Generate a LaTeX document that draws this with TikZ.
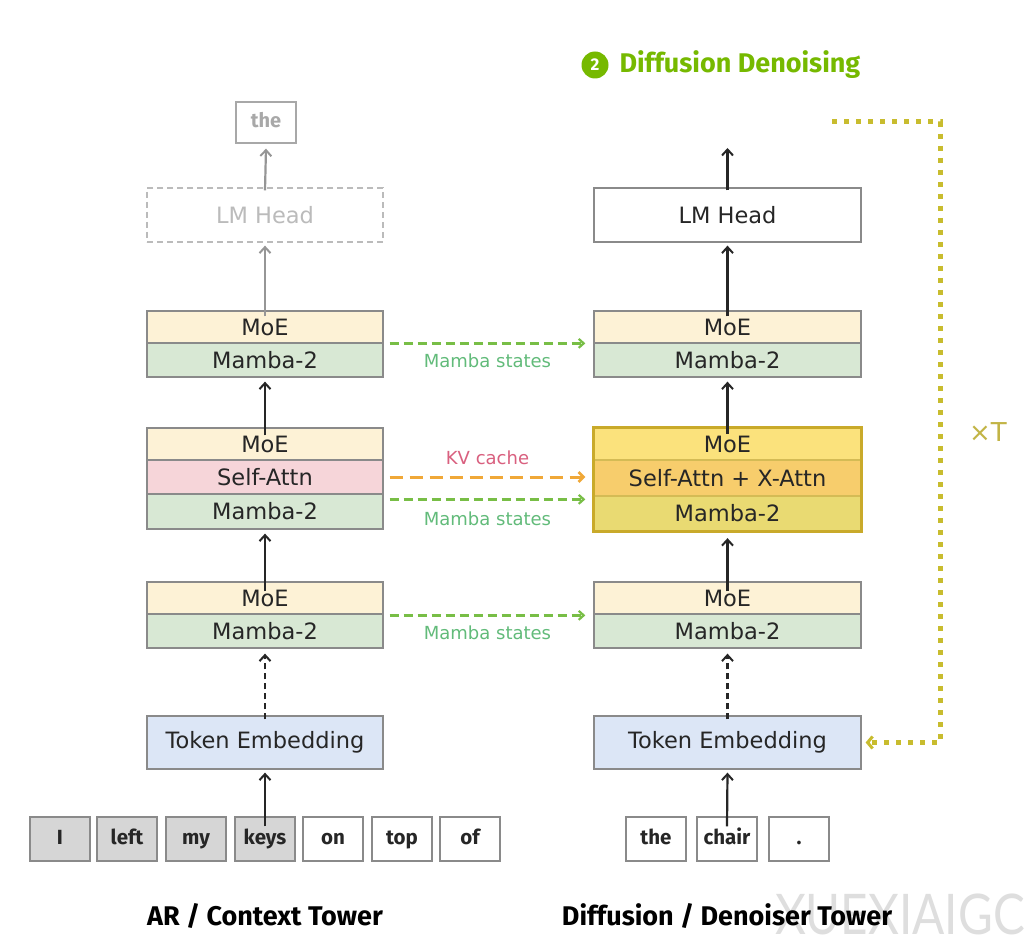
\documentclass[tikz,border=0pt]{standalone}
\usepackage{fontspec}
\setmainfont{DejaVu Sans}
\newfontfamily\titlefont{Fira Sans}
\newfontfamily\wmfont{Lato}
\usetikzlibrary{arrows.meta,fit}
\definecolor{moe}{HTML}{FDF2D6}
\definecolor{mamba}{HTML}{D8E8D4}
\definecolor{attn}{HTML}{F6D5D9}
\definecolor{emb}{HTML}{DCE6F6}
\definecolor{tokg}{HTML}{D6D6D6}
\definecolor{hmoe}{HTML}{FBE27C}
\definecolor{hattn}{HTML}{F7CD6C}
\definecolor{hmamba}{HTML}{E9DA72}
\definecolor{hborder}{HTML}{C9AA2A}
\definecolor{boxgray}{HTML}{8A8A8A}
\definecolor{garrow}{HTML}{78BE46}
\definecolor{glabel}{HTML}{62BB7A}
\definecolor{kvlabel}{HTML}{D9607F}
\definecolor{oarrow}{HTML}{F0A838}
\definecolor{olive}{HTML}{C8BC2E}
\definecolor{olivetext}{HTML}{C2B445}
\definecolor{nvgreen}{HTML}{76B900}
\definecolor{faint}{HTML}{BBBBBB}
\begin{document}
\begin{tikzpicture}[x=1pt,y=-1pt,
  box/.style={draw=boxgray, line width=1.3pt, inner sep=0pt, text=black!85,
    font=\fontsize{22.5}{25}\selectfont},
  rowL/.style={box, minimum width=236pt},
  rowR/.style={box, minimum width=267pt},
  tok/.style={box, minimum width=60pt, minimum height=44pt, text height=14pt, text depth=4pt,
    font=\titlefont\bfseries\fontsize{20.5}{22}\selectfont},
  arr/.style={line width=2.2pt, black!85, -{Straight Barb[length=6pt,width=11pt,line width=2pt]}},
  garr/.style={line width=2.2pt, faint!80!black, -{Straight Barb[length=6pt,width=11pt,line width=2pt]}},
  mam/.style={line width=2.4pt, garrow, dash pattern=on 9pt off 5pt,
    -{Straight Barb[length=5pt,width=9pt,line width=2.2pt]}},
  kv/.style={line width=3pt, oarrow, dash pattern=on 13pt off 7pt,
    -{Straight Barb[length=5pt,width=10pt,line width=2.6pt]}},
  lab/.style={font=\fontsize{18}{20}\selectfont},
  ttl/.style={font=\titlefont\bfseries\fontsize{27}{30}\selectfont, text=black}
]
\useasboundingbox[fill=white] (0,0) rectangle (1034,944);

% watermark (behind)
\node[anchor=west, text=black!13, font=\wmfont\fontsize{56}{60}\selectfont, xscale=0.85] (wm) at (772,914) {XUEXIAIGC};

% ---------------- left tower ----------------
\node[box, draw=faint!90!black, minimum width=60pt, minimum height=41pt, text=faint!90!black,
  text height=14pt, text depth=4pt,
  font=\titlefont\bfseries\fontsize{20}{22}\selectfont] (Lout) at (266,122.5) {the};
\node[rowL, dashed, dash pattern=on 6pt off 4pt, draw=faint, text=faint, minimum height=54pt] (LLM) at (265,215) {LM Head};

\node[rowL, fill=moe, minimum height=32pt] (L3m) at (265,327) {MoE};
\node[rowL, fill=mamba, minimum height=34pt] (L3a) at (265,360) {Mamba-2};

\node[rowL, fill=moe, minimum height=32pt] (L2m) at (265,444) {MoE};
\node[rowL, fill=attn, minimum height=34pt] (L2s) at (265,477) {Self-Attn};
\node[rowL, fill=mamba, minimum height=35pt] (L2a) at (265,511.5) {Mamba-2};

\node[rowL, fill=moe, minimum height=32pt] (L1m) at (265,598) {MoE};
\node[rowL, fill=mamba, minimum height=34pt] (L1a) at (265,631) {Mamba-2};

\node[rowL, fill=emb, minimum height=53pt] (LTE) at (265,742.5) {Token Embedding};

\node[tok, fill=tokg] (t1) at (60,839) {I};
\node[tok, fill=tokg] (t2) at (127,839) {left};
\node[tok, fill=tokg] (t3) at (196,839) {my};
\node[tok, fill=tokg] (t4) at (265,839) {keys};
\node[tok, fill=white] (t5) at (333,839) {on};
\node[tok, fill=white] (t6) at (402,839) {top};
\node[tok, fill=white] (t7) at (470,839) {of};

\node[ttl] (Ltitle) at (265,916) {AR / Context Tower};

% ---------------- right tower ----------------
\coordinate (Rtop) at (727.5,148);
\node[rowR, fill=white, minimum height=54pt] (RLM) at (727.5,215) {LM Head};

\node[rowR, fill=moe, minimum height=32pt] (R3m) at (727.5,327) {MoE};
\node[rowR, fill=mamba, minimum height=34pt] (R3a) at (727.5,360) {Mamba-2};

\node[rowR, fill=hmoe, draw=hborder!80, minimum height=32pt] (R2m) at (727.5,444) {MoE};
\node[rowR, fill=hattn, draw=hborder!80, minimum height=36pt] (R2s) at (727.5,478) {Self-Attn + X-Attn};
\node[rowR, fill=hmamba, draw=hborder!80, minimum height=35pt] (R2a) at (727.5,513.5) {Mamba-2};
\node[draw=hborder, line width=3pt, inner sep=0pt, fit=(R2m)(R2a)] (R2box) {};

\node[rowR, fill=moe, minimum height=32pt] (R1m) at (727.5,598) {MoE};
\node[rowR, fill=mamba, minimum height=34pt] (R1a) at (727.5,631) {Mamba-2};

\node[rowR, fill=emb, minimum height=53pt] (RTE) at (727.5,742.5) {Token Embedding};

\node[tok, fill=white] (r1) at (656,839) {the};
\node[tok, fill=white] (r2) at (727,839) {chair};
\node[tok, fill=white] (r3) at (799,839) {.};

\node[ttl] (Rtitle) at (727,916) {Diffusion / Denoiser Tower};

% ---------------- header ----------------
\node[circle, fill=nvgreen, minimum size=27pt, inner sep=0pt, text=white,
  font=\titlefont\bfseries\fontsize{17}{18}\selectfont] (num) at (595,65) {2};
\node[anchor=west, text=nvgreen, font=\titlefont\bfseries\fontsize{27}{30}\selectfont] (htitle) at (616,65) {Diffusion Denoising};

% ---------------- vertical arrows left ----------------
\draw[arr] ([yshift=-10pt]t4.north) -- ([yshift=-3pt]LTE.south);
\draw[arr, dashed, dash pattern=on 6pt off 4pt] ([yshift=-4pt]LTE.north) -- ([yshift=-5pt]L1a.south);
\draw[arr] ([yshift=-10pt]L1m.north) -- ([yshift=-4pt]L2a.south);
\draw[arr] ([yshift=-8pt]L2m.north) -- ([yshift=-4pt]L3a.south);
\draw[garr] ([yshift=-6pt]L3m.north) -- ([yshift=-3pt]LLM.south);
\draw[garr] ([yshift=-3pt]LLM.north) -- ([yshift=-5pt]Lout.south);

% ---------------- vertical arrows right ----------------
\draw[arr] ([yshift=-10pt]r2.north) -- ([yshift=-3pt]RTE.south);
\draw[arr, dashed, dash pattern=on 6pt off 4pt] ([yshift=-4pt]RTE.north) -- ([yshift=-5pt]R1a.south);
\draw[arr] ([yshift=-10pt]R1m.north) -- ([yshift=-5pt]R2box.south);
\draw[arr] ([yshift=-8pt]R2box.north) -- ([yshift=-4pt]R3a.south);
\draw[arr] ([yshift=-6pt]R3m.north) -- ([yshift=-3pt]RLM.south);
\draw[arr] ([yshift=-3pt]RLM.north) -- (Rtop);

% ---------------- horizontal transfers ----------------
\draw[mam] ([xshift=6pt,yshift=-1pt]L3a.north east) -- ([xshift=-8pt,yshift=-1pt]R3a.north west)
  node[midway, yshift=-17pt, lab, text=glabel] {Mamba states};
\draw[kv] ([xshift=6pt]L2s.east) -- ([xshift=-8pt,yshift=1pt]R2s.west)
  node[midway, yshift=19pt, lab, text=kvlabel] {KV cache};
\draw[mam] ([xshift=6pt,yshift=-6pt]L2a.north east) -- ([xshift=-8pt,yshift=-4pt]R2a.north west)
  node[midway, yshift=-19pt, lab, text=glabel] {Mamba states};
\draw[mam] ([xshift=6pt,yshift=-2pt]L1a.north east) -- ([xshift=-8pt,yshift=-2pt]R1a.north west)
  node[midway, yshift=-17pt, lab, text=glabel] {Mamba states};

% ---------------- loop ----------------
\coordinate (lp) at (832,122);
\coordinate (lc) at (940,122);
\draw[olive, line width=5pt, dash pattern=on 5pt off 7pt,
  -{Straight Barb[length=5pt,width=12pt,line width=3pt]}, shorten >=4pt]
  (lp) -- (lc) |- (RTE.east);
\node[text=olivetext, font=\fontsize{26}{28}\selectfont] (xT) at (988,432) {×T};
\end{tikzpicture}
\end{document}
